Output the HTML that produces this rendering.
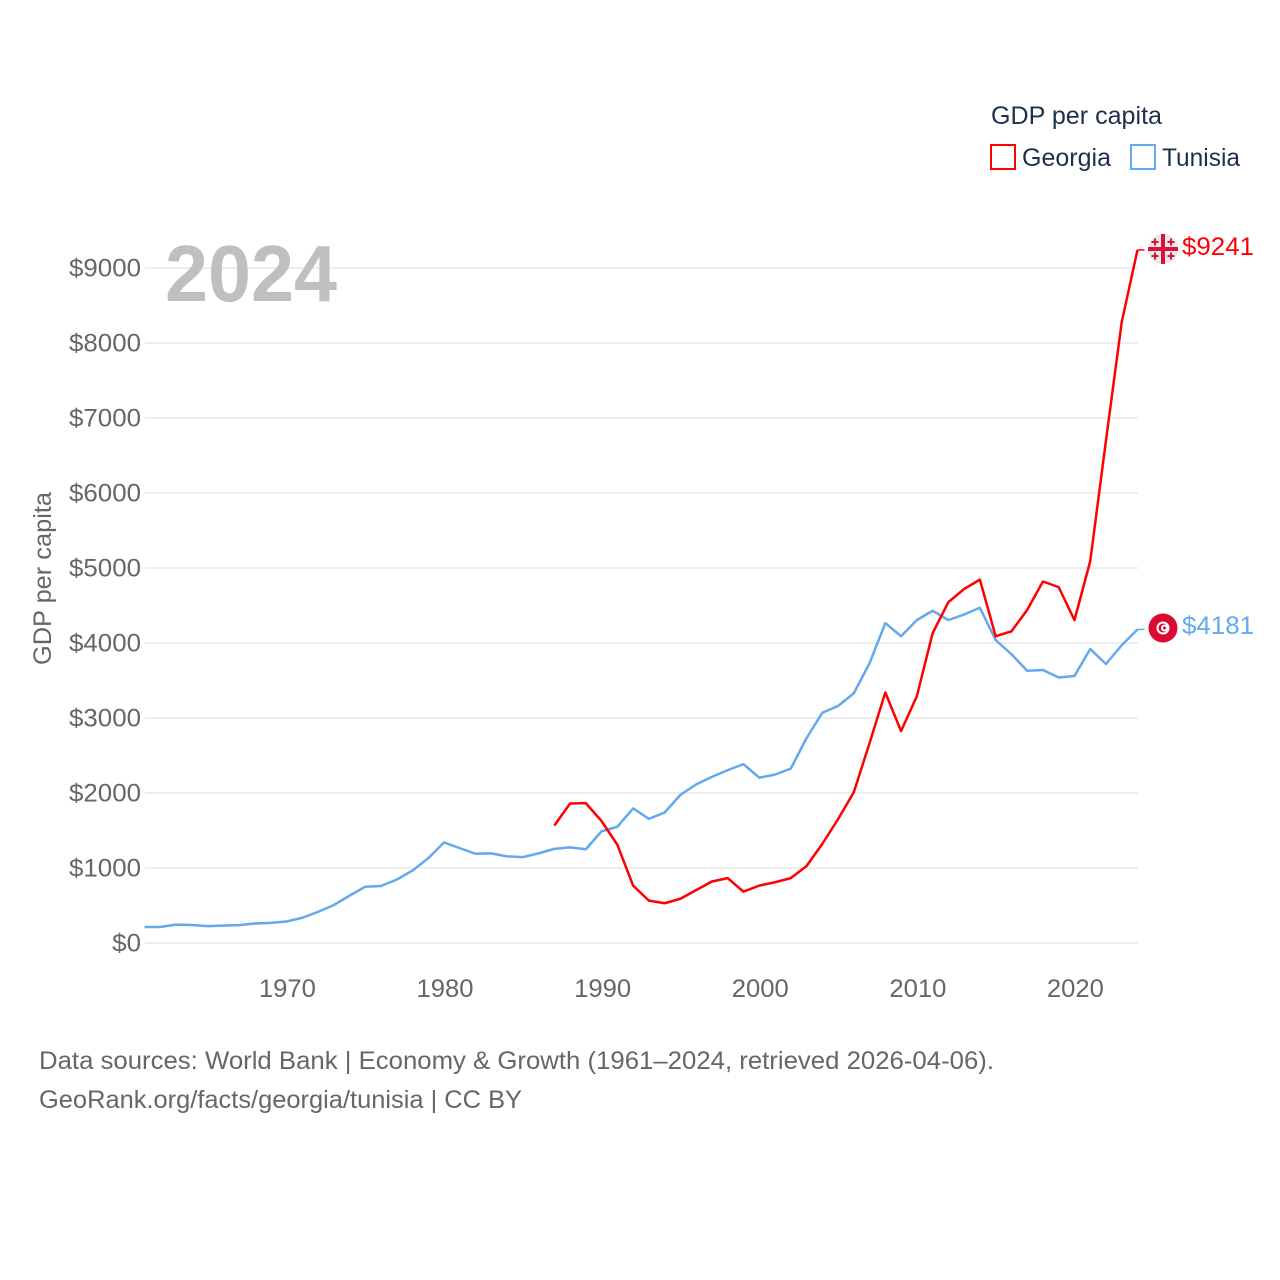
<!DOCTYPE html>
<html lang="en">
<head>
<meta charset="utf-8">
<title>GDP per capita: Georgia and Tunisia</title>
<style>
html,body{margin:0;padding:0;background:#fff;}
svg{display:block;}
text{font-family:"Liberation Sans",sans-serif;}
</style>
</head>
<body>
<svg id="chart" xmlns="http://www.w3.org/2000/svg" width="1280" height="1280" viewBox="0 0 1280 1280">
  <rect x="0" y="0" width="1280" height="1280" fill="#ffffff"/>
  <g id="grid"></g>
  <g id="yticks"></g>
  <g id="xticks"></g>
  <text x="165" y="301" font-size="80" font-weight="700" fill="#bfbfbf" textLength="172" lengthAdjust="spacingAndGlyphs">2024</text>
  <text transform="translate(51,665) rotate(-90)" font-size="25" fill="#666666" textLength="173" lengthAdjust="spacingAndGlyphs">GDP per capita</text>
  <g id="series"></g>

  <g>
    <circle cx="1163" cy="249" r="15" fill="#e8e8e8"/>
    <rect x="1161" y="234" width="4" height="30" fill="#d8113d"/>
    <rect x="1148" y="247" width="30" height="4" fill="#d8113d"/>
    <path d="M1154 238.500h2v2.500h2.500v2h-2.500v2.500h-2v-2.500h-2.500v-2h2.500zM1170 238.500h2v2.500h2.500v2h-2.500v2.500h-2v-2.500h-2.500v-2h2.500zM1154 252.500h2v2.500h2.500v2h-2.500v2.500h-2v-2.500h-2.500v-2h2.500zM1170 252.500h2v2.500h2.500v2h-2.500v2.500h-2v-2.500h-2.500v-2h2.500z" fill="#d8113d"/>
  </g>
  <g>
    <circle cx="1163" cy="628" r="14.500" fill="#db0a33"/>
    <circle cx="1163" cy="628" r="6.500" fill="#ffffff"/>
    <circle cx="1163" cy="628" r="4.500" fill="#db0a33"/>
    <circle cx="1164.500" cy="628" r="3.500" fill="#ffffff"/>
    <circle cx="1164.500" cy="628" r="1.500" fill="#db0a33"/>
  </g>
  <g id="endlabels"></g>

  <g>
    <text x="991" y="124" font-size="25" fill="#1c304d" textLength="171" lengthAdjust="spacingAndGlyphs">GDP per capita</text>
    <g>
      <rect x="991" y="145" width="24" height="24" fill="#ffffff" stroke="#ff0000" stroke-width="2"/>
      <text x="1022" y="166" font-size="25" fill="#1c304d" textLength="89" lengthAdjust="spacingAndGlyphs">Georgia</text>
    </g>
    <g>
      <rect x="1131" y="145" width="24" height="24" fill="#ffffff" stroke="#62a9ee" stroke-width="2"/>
      <text x="1162" y="166" font-size="25" fill="#1c304d" textLength="78" lengthAdjust="spacingAndGlyphs">Tunisia</text>
    </g>
  </g>

  <text x="39" y="1069" font-size="25" fill="#666666" textLength="955" lengthAdjust="spacingAndGlyphs">Data sources: World Bank | Economy &amp; Growth (1961–2024, retrieved 2026-04-06).</text>
  <text x="39" y="1108" font-size="25" fill="#666666" textLength="483" lengthAdjust="spacingAndGlyphs">GeoRank.org/facts/georgia/tunisia | CC BY</text>
</svg>
<script>
const yTickValues = [0, 1000, 2000, 3000, 4000, 5000, 6000, 7000, 8000, 9000];
const xTickYears = [1970, 1980, 1990, 2000, 2010, 2020];
const tunisiaStartYear = 1961;
const tunisiaValues = [213, 213, 245, 240, 225, 232, 238, 260, 268, 287, 335, 415, 505, 630, 750, 760, 845, 965, 1130, 1340, 1265, 1190, 1195, 1155, 1145, 1195, 1255, 1275, 1250, 1490, 1550, 1795, 1655, 1740, 1975, 2115, 2215, 2305, 2385, 2205, 2245, 2325, 2730, 3070, 3160, 3330, 3730, 4265, 4090, 4305, 4430, 4305, 4380, 4470, 4040, 3850, 3630, 3640, 3540, 3560, 3920, 3720, 3970, 4181];
const georgiaStartYear = 1987;
const georgiaValues = [1565, 1860, 1865, 1625, 1310, 765, 565, 530, 590, 705, 820, 865, 685, 765, 810, 865, 1025, 1320, 1650, 2010, 2665, 3340, 2825, 3290, 4130, 4545, 4720, 4845, 4090, 4155, 4440, 4820, 4745, 4305, 5090, 6700, 8280, 9241];

const SVG_NS = 'http://www.w3.org/2000/svg';
const TEXT_W_PER_CHAR = 14.4;
const GEORGIA_COLOR = '#ff0000';
const TUNISIA_COLOR = '#62a9ee';

function xScale(year) { return 144.5 + (year - 1961) * (1137.5 - 144.5) / (2024 - 1961); }
function yScale(value) { return 943 - value * 0.075; }

const grid = document.getElementById('grid');
const yticks = document.getElementById('yticks');
yTickValues.forEach(function (v) {
  const line = document.createElementNS(SVG_NS, 'line');
  
  
  line.setAttribute('x1', 145);
  line.setAttribute('x2', 1138);
  line.setAttribute('y1', yScale(v));
  line.setAttribute('y2', yScale(v));
  line.setAttribute('stroke', '#eeeeee');
  line.setAttribute('stroke-width', 2);
  grid.appendChild(line);

  const t = document.createElementNS(SVG_NS, 'text');
  
  
  t.setAttribute('x', 141);
  t.setAttribute('y', yScale(v) + 8.500);
  t.setAttribute('text-anchor', 'end');
  t.setAttribute('font-size', 25);
  t.setAttribute('fill', '#666666');
  t.setAttribute('textLength', ('$' + v).length * TEXT_W_PER_CHAR);
  t.setAttribute('lengthAdjust', 'spacingAndGlyphs');
  t.textContent = '$' + v;
  yticks.appendChild(t);
});

const xticks = document.getElementById('xticks');
xTickYears.forEach(function (year) {
  const t = document.createElementNS(SVG_NS, 'text');
  
  
  t.setAttribute('x', xScale(year) + 1);
  t.setAttribute('y', 997);
  t.setAttribute('text-anchor', 'middle');
  t.setAttribute('font-size', 25);
  t.setAttribute('fill', '#666666');
  t.setAttribute('textLength', 57);
  t.setAttribute('lengthAdjust', 'spacingAndGlyphs');
  t.textContent = String(year);
  xticks.appendChild(t);
});

function seriesPoints(startYear, values) {
  return values.map(function (v, i) {
    return xScale(startYear + i).toFixed(2) + ',' + yScale(v).toFixed(2);
  });
}

const seriesGroup = document.getElementById('series');

const tunisiaLine = document.createElementNS(SVG_NS, 'polyline');


tunisiaLine.setAttribute('points', seriesPoints(tunisiaStartYear, tunisiaValues).join(' '));
tunisiaLine.setAttribute('fill', 'none');
tunisiaLine.setAttribute('stroke', TUNISIA_COLOR);
tunisiaLine.setAttribute('stroke-width', 2.5);
tunisiaLine.setAttribute('stroke-linejoin', 'round');
seriesGroup.appendChild(tunisiaLine);

const georgiaLine = document.createElementNS(SVG_NS, 'polyline');


georgiaLine.setAttribute('points', seriesPoints(georgiaStartYear, georgiaValues).join(' '));
georgiaLine.setAttribute('fill', 'none');
georgiaLine.setAttribute('stroke', GEORGIA_COLOR);
georgiaLine.setAttribute('stroke-width', 2.5);
georgiaLine.setAttribute('stroke-linejoin', 'round');
seriesGroup.appendChild(georgiaLine);

const tunisiaLast = tunisiaValues[tunisiaValues.length - 1];
const georgiaLast = georgiaValues[georgiaValues.length - 1];

const tunisiaConnector = document.createElementNS(SVG_NS, 'line');


tunisiaConnector.setAttribute('x1', xScale(2024));
tunisiaConnector.setAttribute('x2', xScale(2024) + 7);
tunisiaConnector.setAttribute('y1', yScale(tunisiaLast));
tunisiaConnector.setAttribute('y2', yScale(tunisiaLast));
tunisiaConnector.setAttribute('stroke', TUNISIA_COLOR);
tunisiaConnector.setAttribute('stroke-width', 1.5);
seriesGroup.appendChild(tunisiaConnector);

const georgiaConnector = document.createElementNS(SVG_NS, 'line');


georgiaConnector.setAttribute('x1', xScale(2024));
georgiaConnector.setAttribute('x2', xScale(2024) + 7);
georgiaConnector.setAttribute('y1', yScale(georgiaLast));
georgiaConnector.setAttribute('y2', yScale(georgiaLast));
georgiaConnector.setAttribute('stroke', GEORGIA_COLOR);
georgiaConnector.setAttribute('stroke-width', 1.5);
seriesGroup.appendChild(georgiaConnector);

const endLabels = document.getElementById('endlabels');

const georgiaEnd = document.createElementNS(SVG_NS, 'text');


georgiaEnd.setAttribute('x', 1182);
georgiaEnd.setAttribute('y', 255);
georgiaEnd.setAttribute('font-size', 25);
georgiaEnd.setAttribute('fill', GEORGIA_COLOR);
georgiaEnd.setAttribute('textLength', 72);
georgiaEnd.setAttribute('lengthAdjust', 'spacingAndGlyphs');
georgiaEnd.textContent = '$' + georgiaLast;
endLabels.appendChild(georgiaEnd);

const tunisiaEnd = document.createElementNS(SVG_NS, 'text');


tunisiaEnd.setAttribute('x', 1182);
tunisiaEnd.setAttribute('y', 634);
tunisiaEnd.setAttribute('font-size', 25);
tunisiaEnd.setAttribute('fill', TUNISIA_COLOR);
tunisiaEnd.setAttribute('textLength', 72);
tunisiaEnd.setAttribute('lengthAdjust', 'spacingAndGlyphs');
tunisiaEnd.textContent = '$' + tunisiaLast;
endLabels.appendChild(tunisiaEnd);
</script>
</body>
</html>
